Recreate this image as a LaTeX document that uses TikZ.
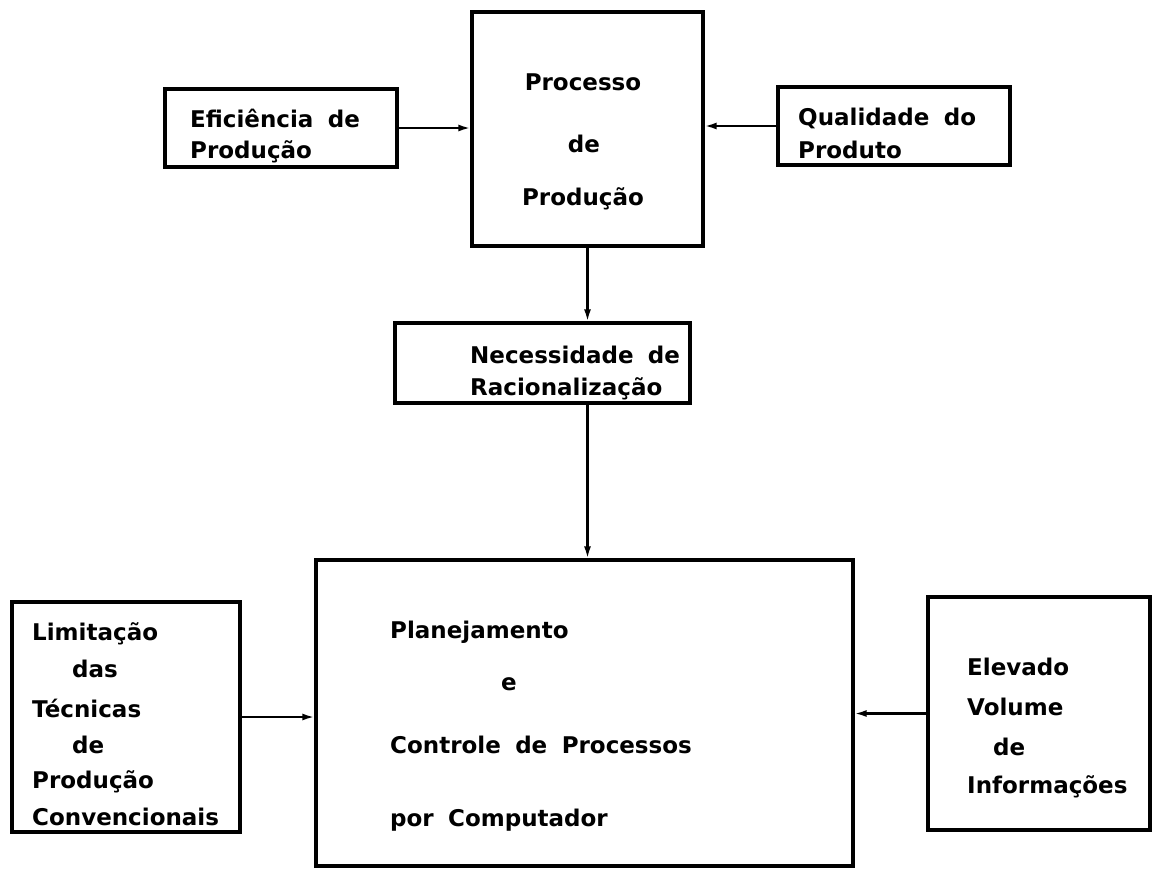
\documentclass[tikz,border=0pt]{standalone}
\usepackage{fontspec}
\setmainfont{DejaVu Sans}[WordSpace=1.8]
\usetikzlibrary{arrows.meta}
\begin{document}
\begin{tikzpicture}[x=1pt,y=-1pt,
  boxnode/.style={draw, line width=3.2pt, inner sep=0pt, rectangle},
  lbl/.style={anchor=base west, inner sep=0pt, font=\fontsize{23}{27}\selectfont\bfseries},
  lblc/.style={anchor=base, inner sep=0pt, font=\fontsize{23}{27}\selectfont\bfseries},
  arr/.style={line width=2.2pt, -{Latex[length=12pt,width=7pt]}}]
\useasboundingbox (0,0) rectangle (1153,870);
% boxes
\node[boxnode, minimum width=232pt, minimum height=78pt] (efic) at (281,128) {};
\node[boxnode, minimum width=231pt, minimum height=234pt] (proc) at (587.5,129) {};
\node[boxnode, minimum width=232pt, minimum height=78pt] (qual) at (894,126) {};
\node[boxnode, minimum width=295pt, minimum height=80pt] (nec) at (542.5,363) {};
\node[boxnode, minimum width=537pt, minimum height=306pt] (main) at (584.5,713) {};
\node[boxnode, minimum width=228pt, minimum height=230pt] (lim) at (126,717) {};
\node[boxnode, minimum width=222pt, minimum height=233pt] (elev) at (1039,713.5) {};
% texts
\node[lbl] (e1) at (190,127) {Eficiência de};
\node[lbl] (e2) at (190,158) {Produção};
\node[lblc] (p1) at (583,90) {Processo};
\node[lblc] (p2) at (584,152) {de};
\node[lblc] (p3) at (583,205) {Produção};
\node[lbl] (q1) at (798,125) {Qualidade do};
\node[lbl] (q2) at (798,158) {Produto};
\node[lbl] (n1) at (470,363) {Necessidade de};
\node[lbl] (n2) at (470,395) {Racionalização};
\node[lbl] (m1) at (390,638) {Planejamento};
\node[lblc] (m2) at (509,690) {e};
\node[lbl] (m3) at (390,753) {Controle de Processos};
\node[lbl] (m4) at (390,826) {por Computador};
\node[lbl] (l1) at (32,640) {Limitação};
\node[lbl] (l2) at (72,677) {das};
\node[lbl] (l3) at (32,717) {Técnicas};
\node[lbl] (l4) at (72,753) {de};
\node[lbl] (l5) at (32,788) {Produção};
\node[lbl] (l6) at (32,825) {Convencionais};
\node[lbl] (v1) at (967,675) {Elevado};
\node[lbl] (v2) at (967,715) {Volume};
\node[lbl] (v3) at (993,755) {de};
\node[lbl] (v4) at (967,793) {Informações};
% connectors
\draw[arr] (efic.east) -- (proc.west |- efic.east);
\draw[arr] (qual.west) -- (proc.east |- qual.west);
\draw[arr] (proc.south) -- (proc.south |- nec.north);
\draw[arr] (proc.south |- nec.south) -- (proc.south |- main.north);
\draw[arr] (lim.east) -- (main.west |- lim.east);
\draw[arr] (elev.west) -- (main.east |- elev.west);
\end{tikzpicture}
\end{document}
